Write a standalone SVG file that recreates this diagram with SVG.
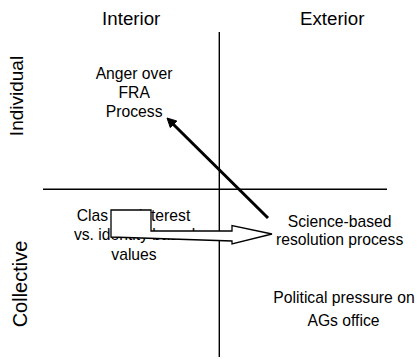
<svg xmlns="http://www.w3.org/2000/svg" width="417" height="359" viewBox="0 0 417 359">
<style>
text{font-family:"Liberation Sans",Arial,sans-serif;fill:#000}
.h{font-size:18.7px;text-anchor:middle}
.n{font-size:15.7px;text-anchor:middle}
.ax{stroke:#000;stroke-width:1.4;fill:none}
</style>
<rect width="417" height="359" fill="#fff"/>
<g id="axes">
<line class="ax" x1="219.3" y1="32" x2="219.3" y2="357"/>
<line class="ax" x1="43" y1="189.3" x2="387" y2="189.3"/>
</g>
<g id="labels">
<text class="h" x="131.2" y="25">Interior</text>
<text class="h" x="332.2" y="25">Exterior</text>
<text class="h" transform="translate(22.7,96) rotate(-90)" style="font-size:19px">Individual</text>
<text class="h" transform="translate(26.5,284) rotate(-90)" style="font-size:20px">Collective</text>
</g>
<g id="anger">
<text class="n" x="134" y="79">Anger over</text>
<text class="n" x="134.2" y="98.3">FRA</text>
<text class="n" x="134.2" y="116.7">Process</text>
</g>
<g id="class">
<text style="font-size:15.7px" x="76.7" y="221">Clas<tspan x="126.6">s interest</tspan></text>
<text class="n" x="134.5" y="240">vs. identity based</text>
<text class="n" x="134" y="260">values</text>
</g>
<g id="science">
<text class="n" x="339.6" y="226.7">Science-based</text>
<text class="n" x="339.6" y="245">resolution process</text>
</g>
<g id="political">
<text class="n" x="344" y="302.7">Political pressure on</text>
<text class="n" x="343.5" y="325.7">AGs office</text>
</g>
<g id="connectors">
<line x1="268" y1="218" x2="173" y2="124" stroke="#000" stroke-width="3"/>
<polygon points="167,118 176.8,121 170.3,127.6" fill="#000" stroke="#000" stroke-width="1"/>
<polygon points="111,210 151,210 151,231 232,231 232,225.5 272,234 232,244 232,241 111,237" fill="#fff" stroke="#000" stroke-width="1.3" stroke-linejoin="miter"/>
</g>
</svg>
